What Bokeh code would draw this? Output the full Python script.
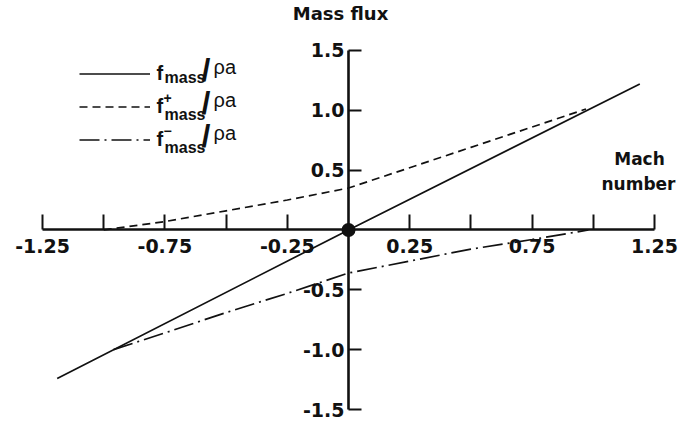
from bokeh.plotting import figure
from bokeh.models import LinearAxis, FixedTicker, Legend, LegendItem, Label
from bokeh.core.properties import value
from bokeh.embed import file_html
from bokeh.resources import INLINE

# ---- data ----
mach_total = [-1.19, 0.0, 1.19]
flux_total = [-1.24, 0.0, 1.22]

mach_plus = [-1.0, -0.75, -0.5, -0.25, 0.0, 0.25, 0.5, 0.75, 0.97]
flux_plus = [0.0, 0.07, 0.16, 0.25, 0.35, 0.52, 0.69, 0.86, 1.01]

mach_minus = [-0.96, -0.75, -0.5, -0.25, 0.0, 0.25, 0.5, 0.75, 0.98]
flux_minus = [-1.0, -0.86, -0.69, -0.53, -0.36, -0.26, -0.16, -0.08, 0.0]

origin_x = [0.0]
origin_y = [0.0]

x_label_ticks = [-1.25, -0.75, -0.25, 0.25, 0.75, 1.25]
x_labels = ["-1.25", "-0.75", "-0.25", "0.25", "0.75", "1.25"]
x_plain_ticks = [-1.0, -0.5, 0.5, 1.0]

y_ticks = [-1.5, -1.0, -0.5, 0.5, 1.0, 1.5]
y_labels = ["-1.5", "-1.0", "-0.5", "0.5", "1.0", "1.5"]

title_text = "Mass flux"
xname_lines = ["Mach", "number"]
legend_sups = ["", "+", "\u2212"]

W, H = 685, 423
INK = "#111111"

p = figure(width=W, height=H, x_range=(-1.4216, 1.3766), y_range=(-1.6167, 1.9167),
           output_backend="svg", toolbar_location=None, min_border=0,
           x_axis_type=None, y_axis_type=None)
p.outline_line_color = None
p.background_fill_color = "white"
p.border_fill_color = "white"

def sx(px):
    return px

def sy(py):
    return H - py

# axes crossing at origin
xaxis = LinearAxis(fixed_location=0,
                   ticker=FixedTicker(ticks=x_label_ticks, minor_ticks=x_plain_ticks),
                   bounds=(-1.25, 1.25))
xaxis.axis_line_width = 2.6
xaxis.axis_line_color = INK
xaxis.major_tick_in = 15
xaxis.major_tick_out = 0
xaxis.minor_tick_in = 15
xaxis.minor_tick_out = 0
xaxis.major_tick_line_width = 2
xaxis.minor_tick_line_width = 2
xaxis.major_tick_line_color = INK
xaxis.minor_tick_line_color = INK
xaxis.major_label_standoff = 9
xaxis.major_label_text_font = "DejaVu Sans"
xaxis.major_label_text_font_style = "bold"
xaxis.major_label_text_font_size = "19px"
xaxis.major_label_text_color = INK
xaxis.major_label_overrides = dict(zip(x_label_ticks, x_labels))
p.add_layout(xaxis, "below")

yaxis = LinearAxis(fixed_location=0, ticker=FixedTicker(ticks=y_ticks, minor_ticks=[]),
                   bounds=(-1.5, 1.5))
yaxis.axis_line_width = 2.6
yaxis.axis_line_color = INK
yaxis.major_tick_in = 13
yaxis.major_tick_out = 0
yaxis.minor_tick_in = 0
yaxis.minor_tick_out = 0
yaxis.major_tick_line_width = 2
yaxis.major_tick_line_color = INK
yaxis.major_label_standoff = 4
yaxis.major_label_text_font = "DejaVu Sans"
yaxis.major_label_text_font_style = "bold"
yaxis.major_label_text_font_size = "19px"
yaxis.major_label_text_color = INK
yaxis.major_label_overrides = dict(zip(y_ticks, y_labels))
p.add_layout(yaxis, "left")

# series
r_total = p.line(mach_total, flux_total, line_color=INK, line_width=1.7)
r_plus = p.line(mach_plus, flux_plus, line_color=INK, line_width=1.7, line_dash="8 5")
r_minus = p.line(mach_minus, flux_minus, line_color=INK, line_width=1.7, line_dash="20 5 2 5")
p.scatter(origin_x, origin_y, size=12, fill_color=INK, line_color=INK, line_width=2)

# legend sample lines
legend = Legend(items=[LegendItem(label=value(" "), renderers=[r_total]),
                       LegendItem(label=value(" "), renderers=[r_plus]),
                       LegendItem(label=value(" "), renderers=[r_minus])],
                location=(sx(79), sy(149.5)), orientation="vertical",
                glyph_width=71, glyph_height=21, label_height=21, spacing=12,
                padding=0, margin=0, border_line_color=None, background_fill_alpha=0,
                label_text_font_size="1px", label_standoff=0, label_width=1)
p.add_layout(legend)

# legend texts  f_mass / ρa
row_y = [73, 106, 139]
mass_drop = [12, 16, 16]
for ly, sup, md in zip(row_y, legend_sups, mass_drop):
    p.add_layout(Label(x=sx(156), y=sy(ly + 10), x_units="screen", y_units="screen",
                       text="f", text_font="Liberation Sans", text_font_style="bold",
                       text_font_size="20px", text_color=INK))
    if sup:
        p.add_layout(Label(x=sx(163), y=sy(ly - 4), x_units="screen", y_units="screen",
                           text=sup, text_font="Liberation Sans", text_font_style="bold",
                           text_font_size="14px", text_color=INK))
    p.add_layout(Label(x=sx(164), y=sy(ly + md), x_units="screen", y_units="screen",
                       text="mass", text_font="Liberation Sans", text_font_style="bold",
                       text_font_size="16px", text_color=INK))
    p.add_layout(Label(x=sx(201), y=sy(ly + 14), x_units="screen", y_units="screen",
                       text="/", text_font="Liberation Sans", text_font_style="bold",
                       text_font_size="32px", text_color=INK))
    p.add_layout(Label(x=sx(213), y=sy(ly + 4), x_units="screen", y_units="screen",
                       text="\u03c1a", text_font="Liberation Sans",
                       text_font_size="20px", text_color=INK))

# axis names
p.add_layout(Label(x=sx(340), y=sy(23), x_units="screen", y_units="screen",
                   text=title_text, text_font="DejaVu Sans", text_font_style="bold",
                   text_font_size="18px", text_align="center", text_color=INK))
p.add_layout(Label(x=sx(639), y=sy(168), x_units="screen", y_units="screen",
                   text=xname_lines[0], text_font="DejaVu Sans", text_font_style="bold",
                   text_font_size="17px", text_align="center", text_color=INK))
p.add_layout(Label(x=sx(638), y=sy(193), x_units="screen", y_units="screen",
                   text=xname_lines[1], text_font="DejaVu Sans", text_font_style="bold",
                   text_font_size="17px", text_align="center", text_color=INK))

open("out.html", "w").write(file_html(p, INLINE))
